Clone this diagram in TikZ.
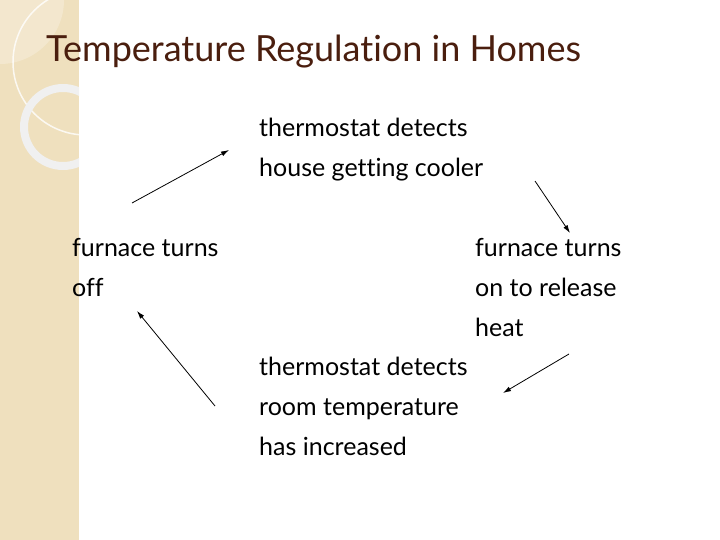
\documentclass[tikz,border=0pt]{standalone}
\usepackage{fontspec}
\setmainfont[Ligatures=CommonOff]{Lato}
\usetikzlibrary{arrows.meta}
\begin{document}
\begin{tikzpicture}[x=1pt,y=-1pt,
  txt/.style={anchor=north west,align=left,font=\fontsize{25}{40}\selectfont,inner sep=0pt},
  arr/.style={-{Latex[length=8pt,width=5pt]},line width=0.8pt}]
\definecolor{strip}{HTML}{EFE0BE}
\definecolor{titlec}{HTML}{4A1E0E}
\useasboundingbox (0,0) rectangle (720,540);
\fill[white] (0,0) rectangle (720,540);
\begin{scope}
\clip (0,0) rectangle (79,540);
\fill[strip] (0,0) rectangle (79,540);
\fill[white,opacity=0.25] (0,0) circle (64);
\draw[white,opacity=0.8,line width=1.5pt] (86,62) circle (73);
\draw[white!88!gray,line width=8pt] (63,127) circle (39);
\end{scope}
\node[anchor=west,inner sep=0pt,text=titlec,font=\fontsize{36}{40}\selectfont] (title) at (46,52) {Temperature Regulation in Homes};
\node[txt] (t1) at (259,118) {thermostat detects\\house getting cooler};
\node[txt] (t2) at (475,238) {furnace turns\\on to release\\heat};
\node[txt] (t3) at (259,357) {thermostat detects\\room temperature\\has increased};
\node[txt] (t4) at (72,238) {furnace turns\\off};
\coordinate (a1s) at (132,203); \coordinate (a1e) at (229,150);
\coordinate (a2s) at (535,181); \coordinate (a2e) at (570,233);
\coordinate (a3s) at (569,354); \coordinate (a3e) at (503,393);
\coordinate (a4s) at (215,406); \coordinate (a4e) at (137,311);
\draw[arr] (a1s) -- (a1e);
\draw[arr] (a2s) -- (a2e);
\draw[arr] (a3s) -- (a3e);
\draw[arr] (a4s) -- (a4e);
\end{tikzpicture}
\end{document}
